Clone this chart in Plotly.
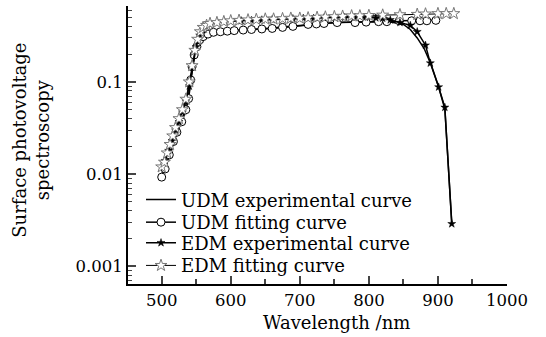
import plotly.graph_objects as go

# UDM fitting curve (open circles)
udm_fit_x = [500, 505, 511, 517, 522, 529, 535, 539, 542, 544, 547, 551, 555, 560, 567, 575, 585, 595,
             605, 618, 630, 645, 660, 675, 690, 712, 724, 735, 754, 780, 796, 814, 826, 844, 862, 874, 884, 897]
udm_fit_y = [0.0093, 0.0114, 0.0162, 0.0226, 0.0285, 0.037, 0.050, 0.066, 0.105, 0.146, 0.196, 0.241,
             0.285, 0.31, 0.33, 0.345, 0.35, 0.355, 0.36, 0.365, 0.37, 0.375, 0.38, 0.39, 0.40, 0.42,
             0.425, 0.43, 0.44, 0.44, 0.445, 0.45, 0.45, 0.46, 0.46, 0.46, 0.46, 0.465]

# UDM experimental curve (solid line)
udm_exp_x = [500, 510, 520, 530, 540, 545, 550, 555, 560, 570, 600, 650, 700, 750, 800, 830, 850, 860,
             870, 880, 890, 900, 910, 920]
udm_exp_y = [0.010, 0.015, 0.025, 0.040, 0.080, 0.15, 0.23, 0.29, 0.32, 0.34, 0.36, 0.38, 0.41, 0.44,
             0.45, 0.45, 0.42, 0.37, 0.30, 0.23, 0.155, 0.093, 0.051, 0.003]

# EDM experimental curve (filled stars)
edm_exp_x = [500, 505, 510, 515, 520, 525, 530, 535, 540, 545, 550, 555, 560, 565, 570, 580, 590, 600,
             615, 630, 645, 660, 675, 690, 705, 720, 735, 750, 765, 780, 795, 810, 820, 831, 845, 860,
             870, 882, 889, 901, 910, 920]
edm_exp_y = [0.012, 0.014, 0.018, 0.023, 0.030, 0.037, 0.047, 0.062, 0.090, 0.15, 0.24, 0.32, 0.37,
             0.40, 0.42, 0.44, 0.45, 0.455, 0.46, 0.465, 0.47, 0.475, 0.48, 0.485, 0.49, 0.49, 0.495,
             0.50, 0.50, 0.50, 0.50, 0.495, 0.49, 0.47, 0.44, 0.41, 0.35, 0.25, 0.16, 0.088, 0.053, 0.0029]

# EDM fitting curve (open stars)
edm_fit_x = [500, 504, 508, 512, 516, 520, 525, 530, 535, 540, 544, 548, 552, 556, 560, 565, 570, 580,
             590, 600, 612, 625, 637, 650, 662, 675, 687, 700, 712, 725, 737, 750, 762, 775, 787, 800,
             820, 845, 870, 882, 900, 912, 923]
edm_fit_y = [0.012, 0.0135, 0.017, 0.021, 0.026, 0.032, 0.040, 0.050, 0.065, 0.10, 0.15, 0.22, 0.29,
             0.35, 0.39, 0.41, 0.43, 0.44, 0.45, 0.46, 0.465, 0.47, 0.475, 0.48, 0.48, 0.485, 0.49,
             0.49, 0.495, 0.50, 0.505, 0.51, 0.515, 0.52, 0.52, 0.525, 0.53, 0.535, 0.54, 0.545, 0.55,
             0.55, 0.55]

y_tickvals = [0.001, 0.01, 0.1]
y_ticktext = ["0.001", "0.01", "0.1"]
x_tickvals = [500, 600, 700, 800, 900, 1000]

FONT = "DejaVu Serif"
LEG_FONT = dict(family=FONT, size=18)

fig = go.Figure()
fig.add_trace(go.Scatter(x=udm_exp_x, y=udm_exp_y, mode="lines", name="UDM experimental curve",
                         line=dict(color="black", width=1.5), legend="legend"))
fig.add_trace(go.Scatter(x=udm_fit_x, y=udm_fit_y, mode="lines+markers", name="UDM fitting curve",
                         line=dict(color="black", width=1.5), legend="legend2",
                         marker=dict(symbol="circle", size=8, color="white",
                                     line=dict(color="black", width=1))))
fig.add_trace(go.Scatter(x=edm_exp_x, y=edm_exp_y, mode="lines+markers", name="EDM experimental curve",
                         line=dict(color="black", width=1.5), legend="legend3",
                         marker=dict(symbol="star", size=6, color="black",
                                     line=dict(color="black", width=0.5))))
fig.add_trace(go.Scatter(x=edm_fit_x, y=edm_fit_y, mode="lines+markers", name="EDM fitting curve",
                         line=dict(color="black", width=1), legend="legend4",
                         marker=dict(symbol="star", size=9, color="white",
                                     line=dict(color="#777777", width=1))))

# plot area: x 128..506.7 px, y 6..284.3 px
def py(px):
    return (284.3 - px) / 278.3

def px_(x):
    return (x - 128) / 378.7

leg_common = dict(x=px_(141), xanchor="left", yanchor="middle", bgcolor="rgba(0,0,0,0)",
                  font=LEG_FONT, itemwidth=30, borderwidth=0)

fig.update_layout(
    width=546, height=337,
    margin=dict(l=128, r=39.3, t=6, b=52.7, autoexpand=False),
    paper_bgcolor="white", plot_bgcolor="white",
    font=dict(family=FONT, size=16, color="black"),
    showlegend=True,
    legend=dict(y=py(200), **leg_common),
    legend2=dict(y=py(222.7), **leg_common),
    legend3=dict(y=py(243.3), **leg_common),
    legend4=dict(y=py(266), **leg_common),
    xaxis=dict(range=[451.2, 1000], tickvals=x_tickvals, ticks="inside", ticklen=8, tickwidth=1.5,
               showline=True, linecolor="black", linewidth=2, showgrid=False, zeroline=False,
               automargin=False, tickfont=dict(family=FONT, size=16.5),
               minor=dict(dtick=50, tick0=0, ticks="inside", ticklen=5, tickwidth=1.5, showgrid=False)),
    yaxis=dict(type="log", range=[-3.19, -0.177], tickvals=y_tickvals, ticktext=y_ticktext,
               ticks="inside", ticklen=8, tickwidth=1.5,
               showline=True, linecolor="black", linewidth=2, showgrid=False, zeroline=False,
               automargin=False, tickfont=dict(family=FONT, size=16.5),
               minor=dict(dtick="D1", ticks="inside", ticklen=4, tickwidth=1, showgrid=False)),
    annotations=[
        dict(text="Surface photovoltage<br>spectroscopy", xref="paper", yref="paper",
             x=px_(31), y=py(140), xanchor="center", yanchor="middle", textangle=-90,
             showarrow=False, font=dict(family=FONT, size=18)),
        dict(text="Wavelength /nm", xref="paper", yref="paper", x=px_(336), y=py(323),
             xanchor="center", yanchor="middle", showarrow=False, font=dict(family=FONT, size=18)),
    ],
)

fig.write_html("out.html", config={"displayModeBar": False},
               post_script="document.body.style.margin='0';document.body.style.overflow='hidden';")
